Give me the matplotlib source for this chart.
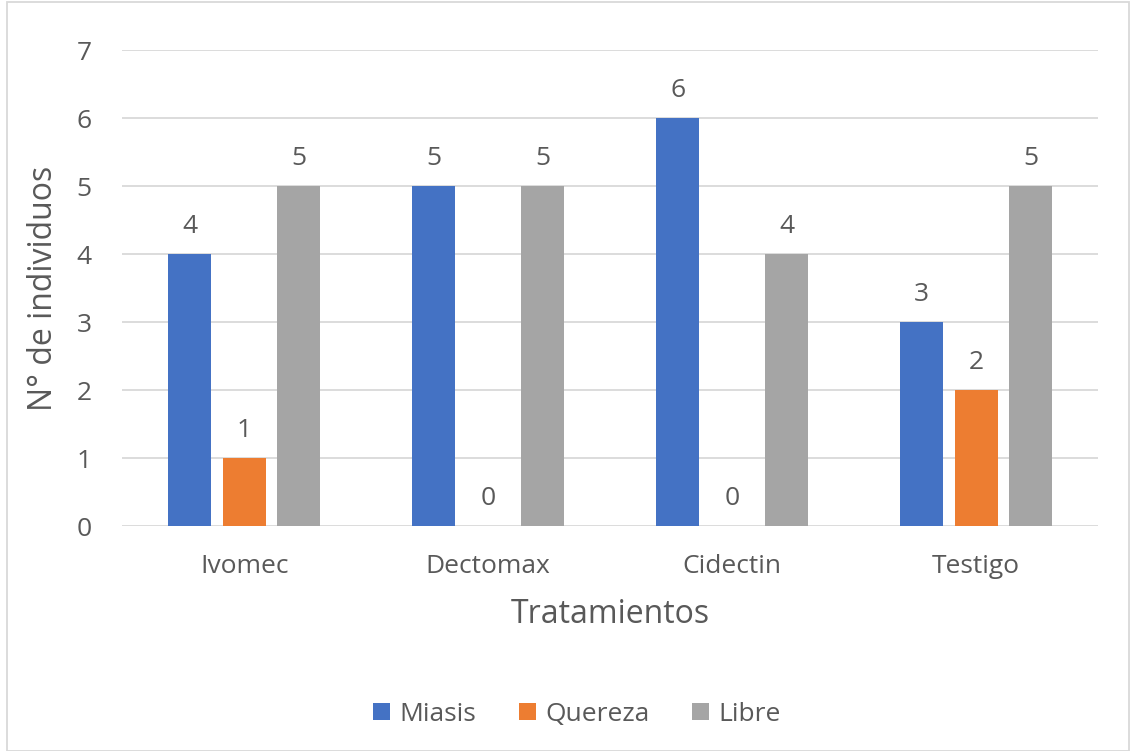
import numpy as np
import matplotlib.pyplot as plt
from matplotlib.patches import Rectangle

plt.rcParams['font.family'] = ['Open Sans', 'DejaVu Sans']

# ---- Datos ----
tratamientos = ["Ivomec", "Dectomax", "Cidectin", "Testigo"]
series = ["Miasis", "Quereza", "Libre"]
miasis = [4, 5, 6, 3]
quereza = [1, 0, 0, 2]
libre = [5, 5, 4, 5]
colores = ["#4472C4", "#ED7D31", "#A5A5A5"]

texto = "#595959"

fig = plt.figure(figsize=(11.31, 7.51), dpi=100)
ax = fig.add_axes([0.108, 0.2996, 0.863, 0.6338])

x = np.arange(len(tratamientos))
ancho = 0.176
paso = 0.223
for i, (nombre, vals, c) in enumerate(zip(series, [miasis, quereza, libre], colores)):
    barras = ax.bar(x + (i - 1) * paso, vals, ancho, color=c, label=nombre, zorder=3)
    ax.bar_label(barras, padding=11, fontsize=19, color=texto)

ax.set_xlim(-0.5, len(tratamientos) - 0.5)
ax.set_ylim(0, 7)
ax.set_yticks(range(0, 8))
ax.set_xticks(x)
ax.set_xticklabels(tratamientos)
ax.grid(axis="y", color="#D9D9D9", linewidth=1.3, zorder=0)
for s in ax.spines.values():
    s.set_visible(False)
ax.tick_params(length=0, labelsize=19, colors=texto)
ax.tick_params(axis="x", pad=20)
ax.tick_params(axis="y", pad=22)
ax.set_xlabel("Tratamientos", fontsize=23, color=texto, labelpad=14)
ax.set_ylabel("N° de individuos", fontsize=23, color=texto, labelpad=12)

leg = fig.legend(loc="center", bbox_to_anchor=(0.51, 0.049), ncol=3, frameon=False,
                 fontsize=19, handlelength=0.65, handleheight=0.65,
                 handletextpad=0.35, columnspacing=1.6)
for t in leg.get_texts():
    t.set_color(texto)

# borde exterior del gráfico
fig.patches.append(Rectangle((0.006, 0.0), 0.992, 0.998, transform=fig.transFigure,
                             fill=False, edgecolor="#D9D9D9", linewidth=1.3))

fig.savefig("out.png", dpi=100)
